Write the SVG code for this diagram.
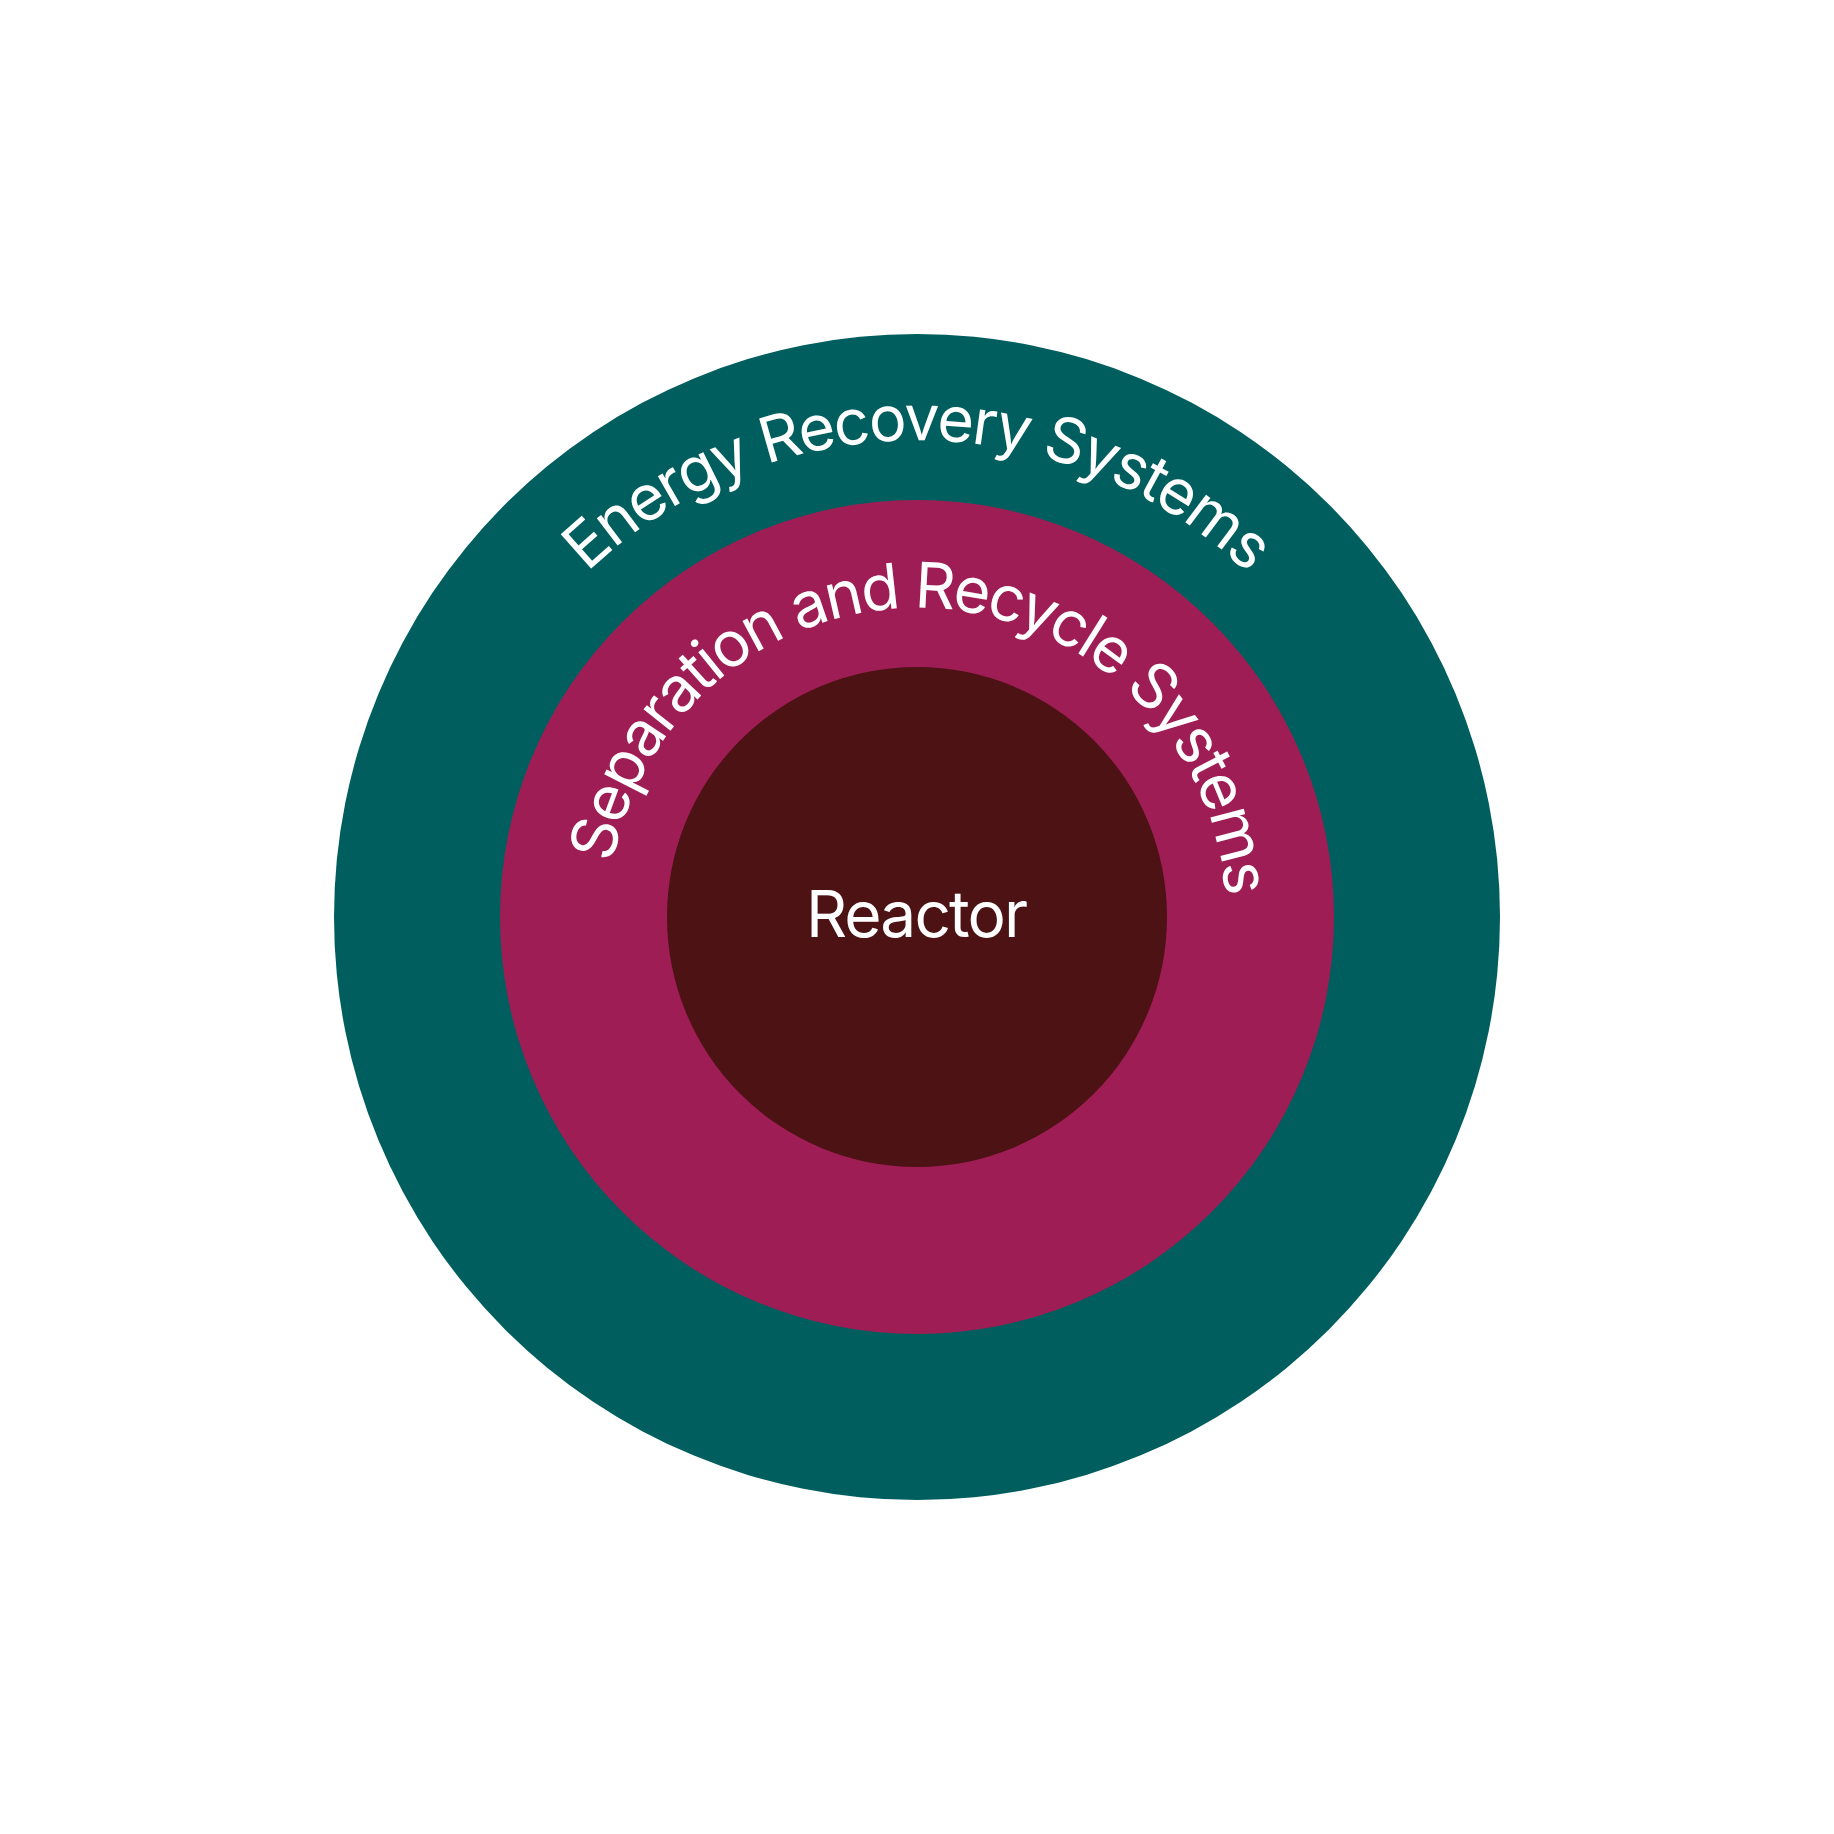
<svg xmlns="http://www.w3.org/2000/svg" width="1834" height="1834" viewBox="0 0 1834 1834">
<style>
.lbl{fill:#ffffff;font-family:Inter,"Noto Sans","Liberation Sans",sans-serif;}
</style>
<defs>
<path id="arcOuter" d="M 440,917 A 477 477 0 0 1 1394,917"/>
<path id="arcMid" d="M 608,917 A 309 309 0 0 1 1226,917"/>
</defs>
<rect width="1834" height="1834" fill="#ffffff"/>
<g id="energy">
<circle cx="917" cy="917" r="583" fill="#005F5E"/>
<text class="lbl" font-size="63"><textPath href="#arcOuter" startOffset="385" textLength="730" lengthAdjust="spacing">Energy Recovery Systems</textPath></text>
</g>
<g id="separation">
<circle cx="917" cy="917" r="417" fill="#9E1D54"/>
<text class="lbl" font-size="63"><textPath href="#arcMid" startOffset="54" textLength="896" lengthAdjust="spacing">Separation and Recycle Systems</textPath></text>
</g>
<g id="reactor">
<circle cx="917" cy="917" r="250" fill="#4C1214"/>
<text class="lbl" x="917" y="937" font-size="64" text-anchor="middle" textLength="222" lengthAdjust="spacing">Reactor</text>
</g>
<g id="connectors"></g>
</svg>
